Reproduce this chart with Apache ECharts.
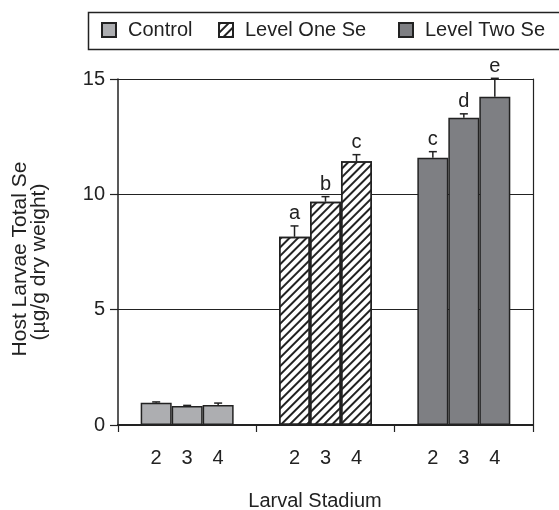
<!DOCTYPE html>
<html>
<head>
<meta charset="utf-8">
<script src="https://cdn.jsdelivr.net/npm/echarts@6/dist/echarts.min.js"></script>
<style>
  html, body { margin: 0; padding: 0; background: #fff; }
  #chart { width: 559px; height: 510px; }
</style>
</head>
<body>
<div id="chart"></div>
<script>
// Treatments (x-axis groups) and larval stadia (bars within each group)
const categories = ['Control', 'Level One Se', 'Level Two Se'];
const stadiumLabels = ['2', '3', '4'];

// Mean total Se (µg/g dry weight) per stadium 2, 3, 4
const controlMeans = [0.97, 0.82, 0.87];
const levelOneMeans = [8.16, 9.68, 11.43];
const levelTwoMeans = [11.59, 13.32, 14.23];

// Standard errors (upper whiskers only)
const controlErrors = [0.03, 0.03, 0.08];
const levelOneErrors = [0.47, 0.22, 0.29];
const levelTwoErrors = [0.26, 0.17, 0.80];

// Significance letters
const controlLetters = ['', '', ''];
const levelOneLetters = ['a', 'b', 'c'];
const levelTwoLetters = ['c', 'd', 'e'];

// Y axis range
const yMin = 0, yMax = 15, yStep = 5;

const means = [controlMeans, levelOneMeans, levelTwoMeans];
const errors = [controlErrors, levelOneErrors, levelTwoErrors];
const letters = [controlLetters, levelOneLetters, levelTwoLetters];

const FONT = 'Liberation Sans, Arial, sans-serif';
const FS = 20;
const FS_TITLE = 21;
const INK = '#222';
const BAR_FRAC = 0.224;

const hatch = {
  symbol: 'rect', symbolSize: 1, color: INK,
  dashArrayX: [1, 0], dashArrayY: [1.3, 4], rotation: -Math.PI / 4
};
const groupStyles = [
  { color: '#adaeb1', borderColor: INK, borderWidth: 1.5 },
  { color: '#ffffff', borderColor: INK, borderWidth: 1.5, decal: hatch },
  { color: '#7e7f83', borderColor: INK, borderWidth: 1.5 }
];

const barSeries = stadiumLabels.map((lab, s) => ({
  type: 'bar',
  name: 'Stadium ' + lab,
  xAxisIndex: 0, yAxisIndex: 0,
  barWidth: (BAR_FRAC * 100) + '%',
  barGap: '0%',
  z: 2,
  label: {
    show: true, position: 'bottom', distance: 23,
    formatter: () => lab,
    fontFamily: FONT, fontSize: FS, lineHeight: 20, color: INK
  },
  emphasis: { disabled: true },
  data: categories.map((c, g) => ({
    value: means[g][s],
    itemStyle: groupStyles[g]
  }))
}));

const errData = [];
categories.forEach((c, g) => {
  stadiumLabels.forEach((lab, s) => {
    errData.push([g, s, means[g][s], errors[g][s]]);
  });
});

const errorSeries = {
  type: 'custom',
  name: 'error',
  xAxisIndex: 0, yAxisIndex: 0,
  clip: false,
  z: 5,
  encode: { x: 0, y: 2 },
  data: errData,
  renderItem: function (params, api) {
    const g = api.value(0), s = api.value(1);
    const m = api.value(2), e = api.value(3);
    const band = api.size([1, 0])[0];
    const bw = band * BAR_FRAC;
    const base = api.coord([g, m]);
    const x = base[0] + (s - 1) * bw;
    const yTop = api.coord([g, m + e])[1];
    const yBar = base[1];
    const cap = 4;
    return {
      type: 'group',
      children: [
        { type: 'line', shape: { x1: x, y1: yBar, x2: x, y2: yTop },
          style: { stroke: INK, lineWidth: 1.5 } },
        { type: 'line', shape: { x1: x - cap, y1: yTop, x2: x + cap, y2: yTop },
          style: { stroke: INK, lineWidth: 1.5 } },
        { type: 'text', x: x, y: yTop - 2,
          style: { text: letters[g][s], textAlign: 'center', textVerticalAlign: 'bottom',
                   fontFamily: FONT, fontSize: FS, fill: INK } }
      ]
    };
  }
};

// Empty series that only feed the legend swatches
const legendSeries = categories.map((c, g) => ({
  type: 'bar', name: c, xAxisIndex: 1, yAxisIndex: 1, data: [],
  itemStyle: groupStyles[g]
}));

const legendLeft = [101, 218, 398];
const legends = categories.map((c, g) => ({
  data: [c], left: legendLeft[g], top: 20, padding: 0,
  icon: 'rect', itemWidth: 14, itemHeight: 14, selectedMode: false,
  textStyle: { fontFamily: FONT, fontSize: FS, color: INK, padding: [0, 0, 0, 7] }
}));

const chart = echarts.init(document.getElementById('chart'), null, { renderer: 'canvas' });
chart.setOption({
  animation: false,
  backgroundColor: '#fff',
  grid: { left: 118, right: 26, top: 79, bottom: 85 },
  legend: legends,
  xAxis: [
    { type: 'category', data: categories, position: 'bottom',
      axisLine: { lineStyle: { color: INK, width: 1.5 } },
      axisTick: { show: true, length: 7, lineStyle: { color: INK, width: 1.2 } },
      axisLabel: { show: false } },
    { type: 'category', data: categories, position: 'top',
      axisLine: { show: true, lineStyle: { color: INK, width: 2 } },
      axisTick: { show: false }, axisLabel: { show: false } }
  ],
  yAxis: [
    { type: 'value', min: yMin, max: yMax, interval: yStep,
      axisLine: { show: true, lineStyle: { color: INK, width: 1.5 } },
      axisTick: { show: true, length: 8, lineStyle: { color: INK, width: 1.2 } },
      axisLabel: { margin: 13, fontFamily: FONT, fontSize: FS, color: INK },
      splitLine: { show: true, lineStyle: { color: INK, width: 1 } } },
    { type: 'value', min: yMin, max: yMax, interval: yStep, position: 'right',
      axisLine: { show: true, lineStyle: { color: INK, width: 1.2 } },
      axisTick: { show: false }, axisLabel: { show: false }, splitLine: { show: false } }
  ],
  graphic: [
    { type: 'rect', left: 86, top: 10, z: 0,
      shape: { width: 520, height: 37 },
      style: { fill: 'none', stroke: INK, lineWidth: 1.5 } },
    { type: 'text', x: 20, y: 259, rotation: Math.PI / 2,
      style: { text: 'Host Larvae Total Se', textAlign: 'center', textVerticalAlign: 'middle',
               fontFamily: FONT, fontSize: FS_TITLE, fill: INK } },
    { type: 'text', x: 39, y: 262, rotation: Math.PI / 2,
      style: { text: '(µg/g dry weight)', textAlign: 'center', textVerticalAlign: 'middle',
               fontFamily: FONT, fontSize: FS_TITLE, fill: INK } },
    { type: 'text', x: 315, y: 501,
      style: { text: 'Larval Stadium', textAlign: 'center', textVerticalAlign: 'middle',
               fontFamily: FONT, fontSize: FS, fill: INK } }
  ],
  series: [...barSeries, errorSeries, ...legendSeries]
});
</script>
</body>
</html>
